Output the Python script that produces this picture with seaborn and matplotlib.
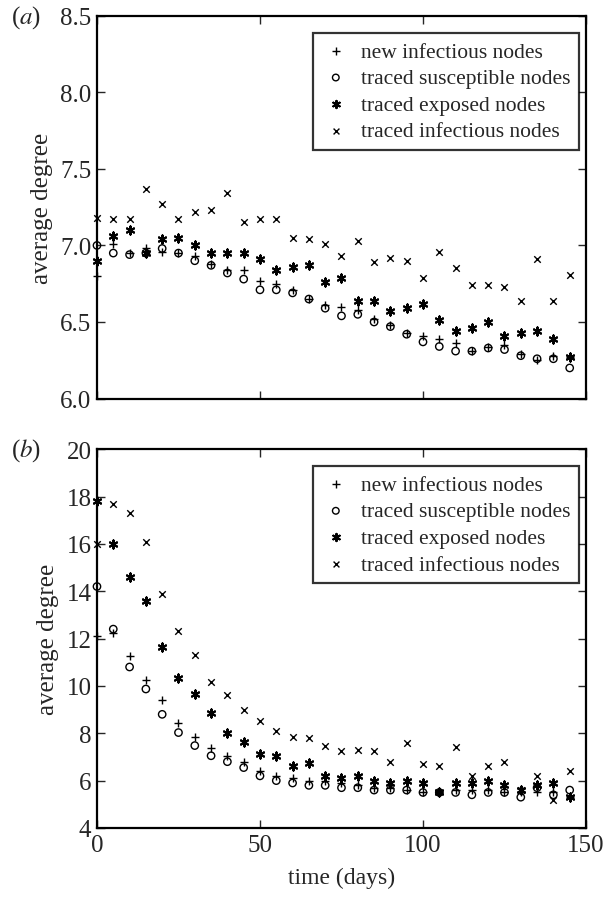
import matplotlib
matplotlib.use("Agg")
import matplotlib.pyplot as plt
import seaborn as sns
import pandas as pd

days = list(range(0, 150, 5))

# panel (a)
a_new_inf = [6.80, 7.01, 6.95, 6.98, 6.96, 6.95, 6.93, 6.88, 6.84, 6.84,
             6.77, 6.75, 6.71, 6.65, 6.61, 6.60, 6.58, 6.52, 6.48, 6.43,
             6.41, 6.39, 6.36, 6.31, 6.34, 6.35, 6.29, 6.25, 6.28, 6.27]
a_tr_sus = [7.00, 6.95, 6.94, 6.95, 6.98, 6.95, 6.90, 6.87, 6.82, 6.78,
            6.71, 6.71, 6.69, 6.65, 6.59, 6.54, 6.55, 6.50, 6.47, 6.42,
            6.37, 6.34, 6.31, 6.31, 6.33, 6.32, 6.28, 6.26, 6.26, 6.20]
a_tr_exp = [6.90, 7.06, 7.10, 6.95, 7.04, 7.05, 7.00, 6.95, 6.95, 6.95,
            6.91, 6.84, 6.86, 6.87, 6.76, 6.79, 6.64, 6.64, 6.57, 6.59,
            6.62, 6.51, 6.44, 6.46, 6.50, 6.41, 6.43, 6.44, 6.39, 6.27]
a_tr_inf = [7.18, 7.17, 7.17, 7.37, 7.27, 7.17, 7.22, 7.23, 7.34, 7.15,
            7.17, 7.17, 7.05, 7.04, 7.01, 6.93, 7.03, 6.89, 6.92, 6.90,
            6.79, 6.96, 6.85, 6.74, 6.74, 6.73, 6.64, 6.91, 6.64, 6.81]

# panel (b)
b_new_inf = [12.1, 12.25, 11.25, 10.25, 9.4, 8.45, 7.83, 7.38, 7.03, 6.8,
             6.4, 6.2, 6.1, 6.0, 6.0, 5.9, 5.8, 5.7, 5.7, 5.6,
             5.5, 5.5, 5.6, 5.6, 5.6, 5.5, 5.5, 5.5, 5.5, 5.3]
b_tr_sus = [14.2, 12.4, 10.8, 9.87, 8.8, 8.03, 7.48, 7.05, 6.8, 6.55,
            6.2, 6.0, 5.9, 5.8, 5.8, 5.7, 5.7, 5.6, 5.6, 5.6,
            5.5, 5.5, 5.5, 5.4, 5.5, 5.5, 5.3, 5.7, 5.4, 5.6]
b_tr_exp = [17.8, 16.0, 14.6, 13.6, 11.65, 10.35, 9.65, 8.85, 8.03, 7.65,
            7.13, 7.05, 6.6, 6.75, 6.2, 6.1, 6.2, 6.0, 5.9, 6.0,
            5.9, 5.5, 5.9, 5.9, 6.0, 5.8, 5.6, 5.8, 5.9, 5.3]
b_tr_inf = [16.0, 17.7, 17.3, 16.1, 13.9, 12.3, 11.3, 10.15, 9.6, 9.0,
            8.5, 8.1, 7.85, 7.8, 7.45, 7.25, 7.3, 7.25, 6.8, 7.6,
            6.7, 6.6, 7.4, 6.2, 6.6, 6.8, 5.6, 6.2, 5.2, 6.4]

labels = ["new infectious nodes", "traced susceptible nodes",
          "traced exposed nodes", "traced infectious nodes"]
a_ticks = [6.0, 6.5, 7.0, 7.5, 8.0, 8.5]
b_ticks = [4, 6, 8, 10, 12, 14, 16, 18, 20]
x_ticks = [0, 50, 100, 150]

sns.set_theme(style="ticks")
plt.rcParams["font.family"] = ["Liberation Serif", "DejaVu Serif"]
plt.rcParams["mathtext.fontset"] = "stix"

fig = plt.figure(figsize=(6.08, 9.04), dpi=100)
ax_a = fig.add_axes([0.1595, 0.558, 0.8043, 0.4235])
ax_b = fig.add_axes([0.1595, 0.083, 0.8043, 0.4190])

marker_styles = [
    dict(marker="+", s=36, color="black", linewidth=1.0),
    dict(marker="o", s=28, facecolors="none", edgecolor="black", linewidth=1.0),
    dict(marker=(6, 2, 0), s=34, color="black", linewidth=1.5),
    dict(marker="x", s=22, color="black", linewidth=1.0),
]


def draw_panel(ax, series, yticks, ylim, fmt):
    for vals, lab, st in zip(series, labels, marker_styles):
        df = pd.DataFrame({"day": days, "deg": vals})
        sns.scatterplot(data=df, x="day", y="deg", ax=ax, label=lab,
                        clip_on=False, zorder=3, **st)
    ax.set_xlim(0, 150)
    ax.set_ylim(*ylim)
    ax.set_xticks(x_ticks)
    ax.set_yticks(yticks)
    ax.set_yticklabels([fmt.format(t) for t in yticks])
    ax.tick_params(direction="in", length=6, width=1.0, top=True, right=True,
                   labelsize=18, pad=4)
    for sp in ax.spines.values():
        sp.set_linewidth(1.6)
        sp.set_color("black")
    ax.set_ylabel("average degree", fontsize=18, labelpad=5)
    leg = ax.legend(loc="upper right", bbox_to_anchor=(0.985, 0.955),
                    fontsize=15.5, frameon=True, fancybox=False,
                    handletextpad=0.5, borderpad=0.4, labelspacing=0.3,
                    handlelength=1.3, borderaxespad=0.0, markerscale=0.9)
    leg.get_frame().set_edgecolor("black")
    leg.get_frame().set_linewidth(1.6)


draw_panel(ax_a, [a_new_inf, a_tr_sus, a_tr_exp, a_tr_inf], a_ticks,
           (6.0, 8.5), "{:.1f}")
draw_panel(ax_b, [b_new_inf, b_tr_sus, b_tr_exp, b_tr_inf], b_ticks,
           (4, 20), "{:d}")

ax_a.set_xlabel("")
ax_a.set_xticklabels([])
ax_b.set_xlabel("time (days)", fontsize=17, labelpad=8)

fig.text(0.018, 0.981, r"($\mathit{a}$)", fontsize=18, va="center", ha="left")
fig.text(0.018, 0.502, r"($\mathit{b}$)", fontsize=18, va="center", ha="left")

fig.savefig("out.png", dpi=100)
